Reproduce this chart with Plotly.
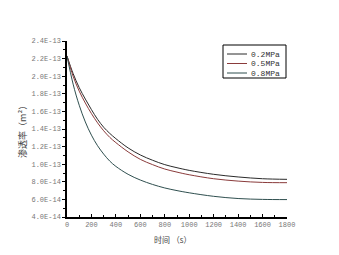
import plotly.graph_objects as go

time_s = [0, 50, 100, 150, 200, 250, 300, 350, 400, 500, 600, 700, 800, 900, 1000, 1200, 1400, 1600, 1800]
perm_02 = [22.3, 20.3, 18.7, 17.4, 16.2, 15.1, 14.2, 13.5, 12.9, 11.85, 11.05, 10.45, 9.95, 9.6, 9.3, 8.85, 8.55, 8.35, 8.28]
perm_05 = [22.3, 20.0, 18.3, 16.95, 15.75, 14.7, 13.8, 13.05, 12.45, 11.4, 10.55, 9.95, 9.45, 9.1, 8.8, 8.35, 8.08, 7.93, 7.9]
perm_08 = [22.3, 19.1, 16.7, 14.8, 13.3, 12.1, 11.15, 10.35, 9.75, 8.85, 8.2, 7.7, 7.3, 7.0, 6.75, 6.35, 6.1, 6.0, 5.98]
scale = 1e-14

series_names = ["0.2MPa", "0.5MPa", "0.8MPa"]
series_vals = [perm_02, perm_05, perm_08]
series_colors = ["#2b2b2b", "#8a3b3b", "#2f4f4f"]

y_ticks = [4e-14 + i * 2e-14 for i in range(11)]
y_ticktext = ["%.1E" % v for v in y_ticks]
x_ticks = list(range(0, 1801, 200))

fig = go.Figure()
for name, vals, col in zip(series_names, series_vals, series_colors):
    fig.add_trace(go.Scatter(
        x=time_s, y=[v * scale for v in vals], name=name, mode="lines",
        line=dict(color=col, width=1, shape="spline", smoothing=1.0),
        showlegend=False,
    ))

# manual compact legend (paper coordinates)
def px_x(p):
    return (p - 67) / 220.0

def px_y(p):
    return (217 - p) / 176.0

shapes = [dict(type="rect", xref="paper", yref="paper",
               x0=px_x(223), x1=px_x(286), y0=px_y(78), y1=px_y(45),
               line=dict(color="black", width=1), fillcolor="white", layer="above")]
annotations = []
for i, (name, col) in enumerate(zip(series_names, series_colors)):
    yy = px_y(54 + i * 9.5)
    shapes.append(dict(type="line", xref="paper", yref="paper",
                       x0=px_x(227), x1=px_x(247), y0=yy, y1=yy,
                       line=dict(color=col, width=1), layer="above"))
    annotations.append(dict(text=name, xref="paper", yref="paper", x=px_x(249), y=yy,
                            xanchor="left", yanchor="middle", showarrow=False,
                            font=dict(family="Liberation Mono", size=8, color="#333333")))

annotations += [
    dict(text="渗透率（m²）", xref="paper", yref="paper", x=-0.205, y=0.5,
         xanchor="center", yanchor="middle", textangle=-90, showarrow=False,
         font=dict(family="Noto Sans CJK SC", size=9, color="#444444")),
    dict(text="时间 （s）", xref="paper", yref="paper", x=0.48, y=-0.13,
         xanchor="center", yanchor="middle", showarrow=False,
         font=dict(family="Noto Sans CJK SC", size=8, color="#444444")),
]

tick_font = dict(family="Liberation Mono", size=7, color="#777777")
fig.update_layout(
    width=339, height=255,
    margin=dict(l=67, r=52, t=41, b=38),
    paper_bgcolor="white", plot_bgcolor="white",
    showlegend=False,
    shapes=shapes,
    annotations=annotations,
    xaxis=dict(range=[0, 1800], tickvals=x_ticks, ticks="inside", ticklen=3,
               minor=dict(ticks="inside", ticklen=2, dtick=100, tickcolor="black"),
               showline=True, linecolor="black", linewidth=1.5, tickcolor="black",
               showgrid=False, zeroline=False, tickfont=tick_font),
    yaxis=dict(range=[4e-14, 2.4e-13], tickvals=y_ticks, ticktext=y_ticktext,
               ticks="outside", ticklen=3,
               minor=dict(ticks="outside", ticklen=2, dtick=1e-14, tickcolor="black"),
               showline=True, linecolor="black", linewidth=1.5, tickcolor="black",
               showgrid=False, zeroline=False, tickfont=tick_font),
)
fig.write_html("out.html")
